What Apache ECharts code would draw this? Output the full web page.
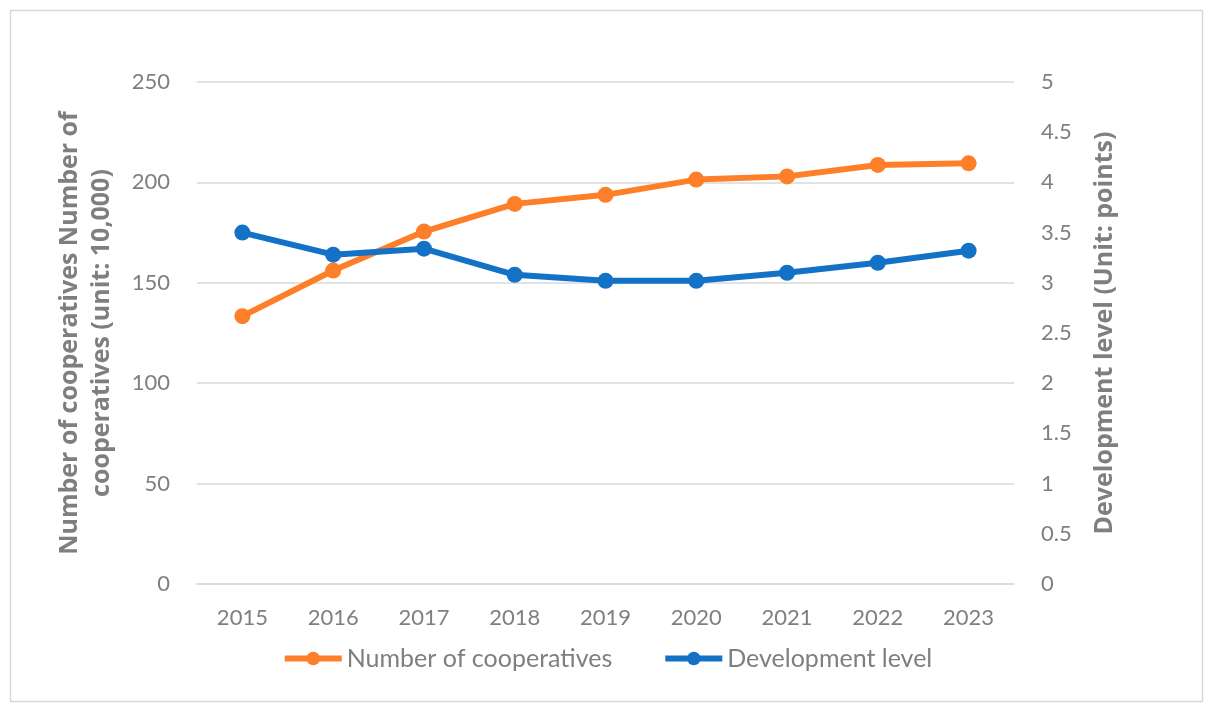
<!DOCTYPE html>
<html>
<head>
<meta charset="utf-8">
<script src="https://cdn.jsdelivr.net/npm/echarts@6/dist/echarts.min.js"></script>
<style>
  html, body { margin: 0; padding: 0; background: #fff; }
  #chart { width: 1214px; height: 712px; }
</style>
</head>
<body>
<div id="chart"></div>
<script>
const years = ['2015', '2016', '2017', '2018', '2019', '2020', '2021', '2022', '2023'];
const cooperatives = [133.4, 156.1, 175.5, 189.3, 193.8, 201.4, 203.0, 208.7, 209.5];
const devLevel = [3.50, 3.28, 3.34, 3.08, 3.02, 3.02, 3.10, 3.20, 3.32];
const leftTicks = { min: 0, max: 250, interval: 50 };
const rightTicks = { min: 0, max: 5, interval: 0.5 };

const ORANGE = '#FE7F2A';
const BLUE = '#1372C6';
const GREY = '#7F7F7F';

const chart = echarts.init(document.getElementById('chart'));
chart.setOption({
  animation: false,
  textStyle: { fontFamily: 'Lato' },
  graphic: [{
    type: 'rect',
    shape: { x: 10.5, y: 10.5, width: 1192, height: 691 },
    style: { fill: 'none', stroke: '#D9D9D9', lineWidth: 1.5 },
    silent: true
  }],
  grid: { left: 197, right: 200, top: 82, bottom: 128 },
  legend: {
    bottom: 36,
    left: 'center',
    itemWidth: 57,
    itemHeight: 17,
    itemGap: 50,
    lineStyle: { width: 6 },
    textStyle: { fontSize: 25, color: GREY, fontFamily: 'Lato' },
    data: ['Number of cooperatives', 'Development level']
  },
  xAxis: {
    type: 'category',
    data: years,
    boundaryGap: true,
    axisLine: { lineStyle: { color: '#D9D9D9', width: 1.5 } },
    axisTick: { show: false },
    axisLabel: { fontSize: 22, color: GREY, margin: 23 }
  },
  yAxis: [{
    type: 'value',
    min: leftTicks.min, max: leftTicks.max, interval: leftTicks.interval,
    name: 'Number of cooperatives Number of\ncooperatives (unit: 10,000)',
    nameLocation: 'middle',
    nameGap: 79,
    nameTextStyle: { fontSize: 25, fontWeight: 'bold', color: GREY, fontFamily: 'Open Sans', lineHeight: 32, align: 'center' },
    axisLine: { show: false },
    axisTick: { show: false },
    axisLabel: { fontSize: 22, color: GREY, margin: 27 },
    splitLine: { lineStyle: { color: '#D9D9D9', width: 1.5 } }
  }, {
    type: 'value',
    position: 'right',
    min: rightTicks.min, max: rightTicks.max, interval: rightTicks.interval,
    name: 'Development level (Unit: points)',
    nameLocation: 'middle',
    nameRotate: 90,
    nameGap: 78,
    nameTextStyle: { fontSize: 25, fontWeight: 'bold', color: GREY, fontFamily: 'Open Sans' },
    axisLine: { show: false },
    axisTick: { show: false },
    axisLabel: { fontSize: 22, color: GREY, margin: 27 },
    splitLine: { show: false }
  }],
  series: [{
    name: 'Number of cooperatives',
    type: 'line',
    yAxisIndex: 0,
    data: cooperatives,
    symbol: 'circle',
    symbolSize: 16,
    lineStyle: { width: 6, color: ORANGE },
    itemStyle: { color: ORANGE }
  }, {
    name: 'Development level',
    type: 'line',
    yAxisIndex: 1,
    data: devLevel,
    symbol: 'circle',
    symbolSize: 16,
    lineStyle: { width: 6, color: BLUE },
    itemStyle: { color: BLUE }
  }]
});
</script>
</body>
</html>
